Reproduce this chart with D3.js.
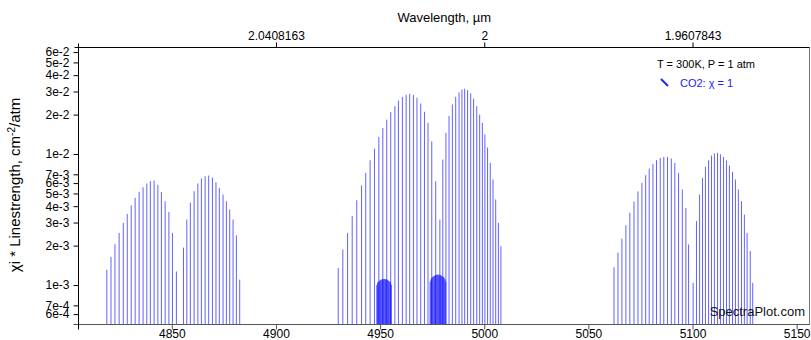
<!DOCTYPE html>
<html>
<head>
<meta charset="utf-8">
<script src="https://cdn.jsdelivr.net/npm/d3@7"></script>
<style>
  body { margin: 0; background: #fff; }
  svg text { font-family: Arial, "Liberation Sans", sans-serif; }
</style>
</head>
<body>
<svg id="chart" width="811" height="340"></svg>
<script>
// CO2 line list near 2 µm (wavenumber in cm-1, linestrength in cm-2/atm)
const band1PWave = [4818.8, 4820.8, 4822.7, 4824.7, 4826.7, 4828.6, 4830.5, 4832.4, 4834.3, 4836.2, 4838.0, 4839.7, 4841.5, 4843.3, 4845.0, 4846.8, 4848.6, 4850.3, 4852.2];
const band1PValue = [1.31e-3, 1.64e-3, 2.05e-3, 2.50e-3, 2.98e-3, 3.49e-3, 4.06e-3, 4.63e-3, 5.15e-3, 5.58e-3, 5.96e-3, 6.21e-3, 6.28e-3, 5.82e-3, 5.12e-3, 4.36e-3, 3.60e-3, 2.50e-3, 1.27e-3];
const band1RWave = [4855.6, 4857.2, 4858.9, 4860.7, 4862.5, 4864.2, 4866.0, 4867.7, 4869.5, 4871.2, 4872.8, 4874.6, 4876.2, 4877.8, 4879.4, 4881.0, 4882.6];
const band1RValue = [1.93e-3, 3.16e-3, 4.26e-3, 5.20e-3, 5.96e-3, 6.50e-3, 6.77e-3, 6.85e-3, 6.60e-3, 6.08e-3, 5.52e-3, 4.90e-3, 4.36e-3, 3.77e-3, 3.16e-3, 2.40e-3, 1.10e-3];

const band2PWave = [4929.9, 4932.1, 4934.4, 4936.6, 4938.8, 4941.1, 4943.1, 4945.2, 4947.3, 4949.4, 4951.3, 4953.2, 4955.1, 4957.1, 4958.8, 4960.7, 4962.5, 4964.2, 4966.0, 4967.7, 4969.5, 4971.3, 4973.0, 4974.8, 4976.7, 4978.7];
const band2PValue = [1.35e-3, 1.87e-3, 2.50e-3, 3.37e-3, 4.44e-3, 5.75e-3, 7.18e-3, 8.97e-3, 1.10e-2, 1.35e-2, 1.58e-2, 1.83e-2, 2.09e-2, 2.32e-2, 2.56e-2, 2.73e-2, 2.83e-2, 2.88e-2, 2.83e-2, 2.69e-2, 2.43e-2, 2.10e-2, 1.73e-2, 1.25e-2, 6.20e-3, 3.16e-3];
const band2RWave = [4980.1, 4981.6, 4983.1, 4984.7, 4986.3, 4987.9, 4989.3, 4990.6, 4992.0, 4993.5, 4994.9, 4996.4, 4997.8, 4999.1, 5000.3, 5001.6, 5002.9, 5004.2, 5005.5, 5006.8, 5008.0];
const band2RValue = [9.08e-3, 1.45e-2, 1.95e-2, 2.39e-2, 2.73e-2, 2.96e-2, 3.11e-2, 3.15e-2, 3.07e-2, 2.90e-2, 2.64e-2, 2.32e-2, 2.00e-2, 1.73e-2, 1.41e-2, 1.12e-2, 8.56e-3, 6.39e-3, 4.50e-3, 2.98e-3, 1.98e-3];

const hotAWave = [4948.4, 4948.75, 4949.1, 4949.45, 4949.8, 4950.15, 4950.5, 4950.85, 4951.2, 4951.55, 4951.9, 4952.25, 4952.6, 4952.95, 4953.3, 4953.65, 4954.0, 4954.35, 4954.7, 4955.05, 4955.4];
const hotAValue = [1.00e-3, 1.04e-3, 1.06e-3, 1.07e-3, 1.08e-3, 1.09e-3, 1.10e-3, 1.10e-3, 1.11e-3, 1.11e-3, 1.11e-3, 1.11e-3, 1.11e-3, 1.10e-3, 1.10e-3, 1.09e-3, 1.08e-3, 1.07e-3, 1.06e-3, 1.04e-3, 1.00e-3];
const hotBWave = [4974.0, 4974.36, 4974.72, 4975.08, 4975.44, 4975.8, 4976.16, 4976.52, 4976.88, 4977.24, 4977.6, 4977.96, 4978.32, 4978.68, 4979.04, 4979.4, 4979.76, 4980.12, 4980.48, 4980.84, 4981.2, 4981.56];
const hotBValue = [1.06e-3, 1.10e-3, 1.13e-3, 1.15e-3, 1.16e-3, 1.17e-3, 1.18e-3, 1.19e-3, 1.19e-3, 1.20e-3, 1.20e-3, 1.20e-3, 1.20e-3, 1.19e-3, 1.19e-3, 1.18e-3, 1.17e-3, 1.16e-3, 1.15e-3, 1.13e-3, 1.10e-3, 1.06e-3];

const band3PWave = [5062.3, 5064.2, 5066.1, 5068.0, 5069.9, 5071.9, 5073.8, 5075.7, 5077.5, 5079.2, 5081.0, 5082.7, 5084.5, 5086.2, 5088.0, 5089.8, 5091.5, 5093.3, 5095.1, 5096.8, 5098.1];
const band3PValue = [1.37e-3, 1.77e-3, 2.26e-3, 2.86e-3, 3.56e-3, 4.34e-3, 5.18e-3, 6.02e-3, 6.89e-3, 7.74e-3, 8.41e-3, 8.97e-3, 9.35e-3, 9.50e-3, 9.50e-3, 9.24e-3, 8.56e-3, 7.18e-3, 5.36e-3, 3.88e-3, 2.04e-3];
const band3RWave = [5100.3, 5101.9, 5103.4, 5104.8, 5106.2, 5107.7, 5109.1, 5110.5, 5112.0, 5113.4, 5114.9, 5116.3, 5117.7, 5119.2, 5120.6, 5122.0, 5123.5, 5124.9, 5126.2, 5127.7, 5128.9];
const band3RValue = [1.04e-3, 3.08e-3, 4.90e-3, 6.58e-3, 7.99e-3, 8.97e-3, 9.74e-3, 1.01e-2, 1.02e-2, 9.97e-3, 9.50e-3, 8.92e-3, 8.17e-3, 7.31e-3, 6.39e-3, 5.36e-3, 4.36e-3, 3.45e-3, 2.50e-3, 1.82e-3, 1.04e-3];

const xTicks = [4850, 4900, 4950, 5000, 5050, 5100, 5150];
const wavelengthTicks = [4900, 5000, 5100];
const wavelengthLabels = ["2.0408163", "2", "1.9607843"];
const yTicks = [6e-2, 5e-2, 4e-2, 3e-2, 2e-2, 1e-2, 7e-3, 6e-3, 5e-3, 4e-3, 3e-3, 2e-3, 1e-3, 7e-4, 6e-4];
const yDomain = [5e-4, 6.5e-2];
const xDomain = [4805.2, 5156.4];

const svg = d3.select("#chart");
const plot = { left: 78.5, right: 810, top: 47.5, bottom: 324.5 };

const x = d3.scaleLinear().domain(xDomain).range([plot.left, plot.right]);
const y = d3.scaleLog().domain(yDomain).range([plot.bottom, plot.top]);

// stick spectrum
const pairs = (w, v) => w.map((d, i) => ({ wn: d, s: v[i] }));
const lines = [].concat(
  pairs(band1PWave, band1PValue), pairs(band1RWave, band1RValue),
  pairs(band2PWave, band2PValue), pairs(band2RWave, band2RValue),
  pairs(hotAWave, hotAValue), pairs(hotBWave, hotBValue),
  pairs(band3PWave, band3PValue), pairs(band3RWave, band3RValue)
);

svg.append("g")
  .selectAll("line")
  .data(lines)
  .join("line")
  .attr("x1", d => x(d.wn)).attr("x2", d => x(d.wn))
  .attr("y1", plot.bottom).attr("y2", d => y(d.s))
  .attr("stroke", "#0000ff")
  .attr("stroke-opacity", 0.62)
  .attr("stroke-width", 1);

// bottom axis (wavenumber)
const xAxis = svg.append("g")
  .attr("transform", `translate(0,${plot.bottom})`)
  .call(d3.axisBottom(x).tickValues(xTicks).tickFormat(d3.format("d")).tickSize(5).tickSizeOuter(0));
xAxis.select(".domain").remove();
xAxis.selectAll(".tick line").attr("stroke", "#555");
xAxis.selectAll("text").attr("font-size", 12).attr("fill", "#000").attr("y", 6).attr("dy", "0.6em");
svg.append("line").attr("x1", plot.left - 5).attr("x2", plot.right)
  .attr("y1", plot.bottom).attr("y2", plot.bottom).attr("stroke", "#555");

// top axis (wavelength)
const topAxis = svg.append("g")
  .attr("transform", `translate(0,${plot.top})`)
  .call(d3.axisTop(x).tickValues(wavelengthTicks)
    .tickFormat((d, i) => wavelengthLabels[i]).tickSize(5).tickSizeOuter(0));
topAxis.select(".domain").remove();
topAxis.selectAll(".tick line").attr("stroke", "#000");
topAxis.selectAll("text").attr("font-size", 12).attr("fill", "#000");
svg.append("line").attr("x1", plot.left - 4).attr("x2", plot.right)
  .attr("y1", plot.top).attr("y2", plot.top).attr("stroke", "#000");

// left axis
const yAxis = svg.append("g")
  .attr("transform", `translate(${plot.left},0)`)
  .call(d3.axisLeft(y).tickValues(yTicks).tickFormat(d => d.toExponential(0)).tickSize(5).tickSizeOuter(0));
yAxis.select(".domain").remove();
yAxis.selectAll(".tick line").attr("stroke", "#000");
yAxis.selectAll("text").attr("font-size", 12).attr("fill", "#000").attr("dx", "-1");
svg.append("line").attr("x1", plot.left).attr("x2", plot.left)
  .attr("y1", plot.top - 4).attr("y2", plot.bottom + 5).attr("stroke", "#000");

// right border
svg.append("line").attr("x1", plot.right - 0.5).attr("x2", plot.right - 0.5)
  .attr("y1", plot.top).attr("y2", plot.bottom).attr("stroke", "#777");

// axis titles
svg.append("text").attr("x", (plot.left + plot.right) / 2).attr("y", 22)
  .attr("text-anchor", "middle").attr("font-size", 13).text("Wavelength, µm");

const yTitle = svg.append("text")
  .attr("transform", "translate(20,185) rotate(-90)")
  .attr("text-anchor", "middle").attr("font-size", 15);
yTitle.append("tspan").text("χi * Linestrength, cm");
yTitle.append("tspan").attr("font-size", 10).attr("dy", -5).text("-2");
yTitle.append("tspan").attr("dy", 5).text("/atm");

// legend
svg.append("text").attr("x", 706).attr("y", 68).attr("text-anchor", "middle")
  .attr("font-size", 11).text("T = 300K, P = 1 atm");
svg.append("line").attr("x1", 661).attr("y1", 79).attr("x2", 668).attr("y2", 86)
  .attr("stroke", "#2222ff").attr("stroke-width", 2);
svg.append("text").attr("x", 680).attr("y", 87)
  .attr("font-size", 11).attr("fill", "#2222ff").text("CO2: χ = 1");

// watermark
svg.append("text").attr("x", 805).attr("y", 316).attr("text-anchor", "end")
  .attr("font-size", 13).attr("fill", "#111").text("SpectraPlot.com");
</script>
</body>
</html>
